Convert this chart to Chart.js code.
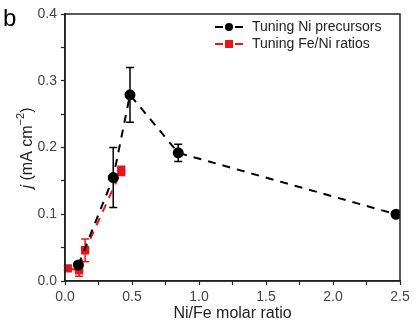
<!DOCTYPE html>
<html>
<head>
<meta charset="utf-8">
<script src="https://cdn.jsdelivr.net/npm/chart.js@4.4.1/dist/chart.umd.min.js"></script>
<style>
  html, body { margin: 0; padding: 0; background: #fff; }
  #wrap { width: 419px; height: 332px; position: relative; }
</style>
</head>
<body>
<div id="wrap"><canvas id="myChart" width="419" height="332"></canvas></div>
<script>
// Tuning Ni precursors (black)
const niX = [0.1, 0.36, 0.485, 0.845, 2.47];
const niY = [0.024, 0.155, 0.279, 0.192, 0.1];
const niErr = [0.004, 0.045, 0.041, 0.013, 0.002];
// Tuning Fe/Ni ratios (red)
const feX = [0.02, 0.105, 0.15, 0.42];
const feY = [0.019, 0.016, 0.046, 0.165];
const feErr = [0.003, 0.009, 0.017, 0.007];

const SERIES_LABELS = ['Tuning Ni precursors', 'Tuning Fe/Ni ratios'];
const X_TITLE = 'Ni/Fe molar ratio';
const FONT = '"Liberation Sans", Arial, sans-serif';

function toPoints(xs, ys) {
    return xs.map((x, i) => ({ x: x, y: ys[i] }));
}

const errorBars = {
    id: 'errorBars',
    beforeDatasetsDraw(chart) {
        const ctx = chart.ctx;
        const xs = chart.scales.x, ys = chart.scales.y;
        const sets = [[feX, feY, feErr, '#e8141a'], [niX, niY, niErr, '#000']];
        ctx.save();
        ctx.lineWidth = 1.5;
        sets.forEach(([X, Y, E, col]) => {
            ctx.strokeStyle = col;
            X.forEach((x, i) => {
                const px = xs.getPixelForValue(x);
                const top = ys.getPixelForValue(Y[i] + E[i]);
                const bot = ys.getPixelForValue(Y[i] - E[i]);
                ctx.beginPath();
                ctx.moveTo(px, top); ctx.lineTo(px, bot);
                ctx.moveTo(px - 4, top); ctx.lineTo(px + 4, top);
                ctx.moveTo(px - 4, bot); ctx.lineTo(px + 4, bot);
                ctx.stroke();
            });
        });
        ctx.restore();
    }
};

const frame = {
    id: 'frame',
    afterDraw(chart) {
        const ctx = chart.ctx;
        const a = chart.chartArea;
        ctx.save();
        // box
        ctx.strokeStyle = '#222';
        ctx.lineWidth = 1.5;
        ctx.strokeRect(a.left, a.top, a.right - a.left, a.bottom - a.top);

        // legend
        ctx.font = '14px ' + FONT;
        ctx.textBaseline = 'middle';
        ctx.textAlign = 'left';
        const lx = 215, rows = [27, 44];
        [['#000', 'circle'], ['#e8141a', 'rect']].forEach(([col, shape], i) => {
            const y = rows[i];
            ctx.strokeStyle = col;
            ctx.fillStyle = col;
            ctx.lineWidth = 2;
            ctx.beginPath();
            ctx.moveTo(lx, y); ctx.lineTo(lx + 8, y);
            ctx.moveTo(lx + 20, y); ctx.lineTo(lx + 28, y);
            ctx.stroke();
            ctx.beginPath();
            if (shape === 'circle') {
                ctx.arc(lx + 14, y, 4, 0, Math.PI * 2);
            } else {
                ctx.rect(lx + 10, y - 4, 8, 8);
            }
            ctx.fill();
            ctx.fillStyle = '#222';
            ctx.fillText(SERIES_LABELS[i], lx + 37, y);
        });

        // panel letter
        ctx.fillStyle = '#000';
        ctx.font = '24px ' + FONT;
        ctx.textBaseline = 'alphabetic';
        ctx.fillText('b', 3, 26);

        // y axis title: j (mA cm-2)
        ctx.translate(23, 148);
        ctx.rotate(-Math.PI / 2);
        const parts = [
            { t: 'j', f: 'italic 16px ' + FONT, dy: 0 },
            { t: ' (mA cm', f: '16px ' + FONT, dy: 0 },
            { t: '\u22122', f: '11px ' + FONT, dy: -7 },
            { t: ')', f: '16px ' + FONT, dy: 0 }
        ];
        let total = 0;
        parts.forEach(p => { ctx.font = p.f; p.w = ctx.measureText(p.t).width; total += p.w; });
        let cx = -total / 2;
        ctx.fillStyle = '#222';
        ctx.textBaseline = 'middle';
        parts.forEach(p => {
            ctx.font = p.f;
            ctx.fillText(p.t, cx, p.dy + 5);
            cx += p.w;
        });
        ctx.restore();
    }
};

const config = {
    type: 'scatter',
    data: {
        datasets: [
            {
                label: SERIES_LABELS[0],
                data: toPoints(niX, niY),
                showLine: true,
                borderColor: '#000',
                backgroundColor: '#000',
                borderWidth: 2,
                borderDash: [8, 7],
                pointStyle: 'circle',
                pointRadius: 4.5,
                pointHoverRadius: 4.5
            },
            {
                label: SERIES_LABELS[1],
                data: toPoints(feX, feY),
                showLine: true,
                borderColor: '#e8141a',
                backgroundColor: '#e8141a',
                borderWidth: 2,
                borderDash: [8, 7],
                pointStyle: 'rect',
                pointRadius: 4.5,
                pointHoverRadius: 4.5
            }
        ]
    },
    options: {
        responsive: false,
        animation: false,
        layout: { padding: { top: 14, right: 19, left: 0, bottom: 5 } },
        plugins: {
            legend: { display: false },
            tooltip: { enabled: false }
        },
        scales: {
            x: {
                type: 'linear',
                min: 0,
                max: 2.5,
                afterFit(scale) { scale.height = 46; },
                border: { display: true, color: '#222', width: 1.5 },
                grid: { drawOnChartArea: false, drawTicks: true, tickLength: 4, tickColor: '#222', tickWidth: 1.2 },
                ticks: {
                    stepSize: 0.25,
                    autoSkip: false,
                    maxRotation: 0,
                    color: '#444',
                    padding: 4,
                    font: { family: FONT, size: 14 },
                    callback: (v) => (Math.round(v * 4) % 2 === 0 ? v.toFixed(1) : '')
                },
                title: {
                    display: true,
                    text: X_TITLE,
                    color: '#222',
                    padding: { top: 1 },
                    font: { family: FONT, size: 16 }
                }
            },
            y: {
                type: 'linear',
                min: 0,
                max: 0.4,
                afterFit(scale) { scale.width = 65; },
                border: { display: true, color: '#222', width: 1.5 },
                grid: { drawOnChartArea: false, drawTicks: true, tickLength: 4, tickColor: '#222', tickWidth: 1.2 },
                ticks: {
                    stepSize: 0.05,
                    autoSkip: false,
                    color: '#444',
                    padding: 4,
                    font: { family: FONT, size: 14 },
                    callback: (v) => (Math.round(v * 100) % 10 === 0 ? v.toFixed(1) : '')
                }
            }
        }
    },
    plugins: [errorBars, frame]
};

const myChart = new Chart(document.querySelector('#myChart'), config);
</script>
</body>
</html>
